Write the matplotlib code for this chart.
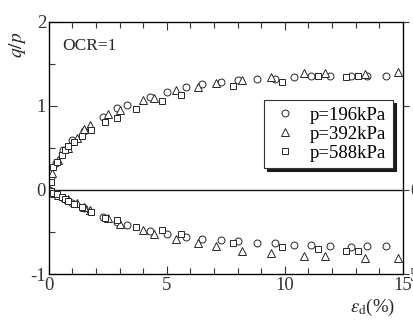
import numpy as np
import matplotlib.pyplot as plt
from matplotlib.ticker import MultipleLocator

plt.rcParams['font.family'] = ['Liberation Serif', 'DejaVu Serif']
plt.rcParams['mathtext.fontset'] = 'stix'
plt.rcParams['axes.unicode_minus'] = False

# p = 196 kPa (circles)
c_x = [0, 0.1, 0.3, 0.6, 1.0, 1.5, 2.3, 2.9, 3.3, 4.3, 5.0, 5.8, 6.5, 7.3, 8.0,
       8.8, 9.6, 10.4, 11.1, 11.9, 12.8, 13.5, 14.3]
c_up = [0, 0.15, 0.32, 0.48, 0.6, 0.7, 0.87, 0.98, 1.01, 1.11, 1.17, 1.22, 1.26,
        1.29, 1.31, 1.32, 1.32, 1.35, 1.36, 1.36, 1.36, 1.36, 1.36]
c_lo = [0, -0.02, -0.05, -0.1, -0.16, -0.22, -0.32, -0.38, -0.42, -0.49, -0.52,
        -0.56, -0.58, -0.6, -0.61, -0.63, -0.63, -0.65, -0.65, -0.67, -0.68, -0.67, -0.67]

# p = 392 kPa (triangles)
t_x = [0, 0.15, 0.4, 0.8, 1.2, 1.5, 1.74, 2.5, 3.0, 4.0, 4.45, 5.4, 6.3, 7.1,
       8.2, 9.4, 10.8, 11.7, 13.4, 14.8]
t_up = [0, 0.2, 0.36, 0.5, 0.62, 0.73, 0.77, 0.9, 0.95, 1.07, 1.1, 1.19, 1.22,
        1.27, 1.31, 1.35, 1.39, 1.39, 1.38, 1.40]
t_lo = [0, -0.03, -0.06, -0.11, -0.16, -0.2, -0.24, -0.33, -0.4, -0.48, -0.52,
        -0.58, -0.63, -0.67, -0.73, -0.75, -0.79, -0.79, -0.81, -0.81]

# p = 588 kPa (squares)
s_x = [0.08, 0.17, 0.34, 0.55, 0.68, 0.8, 1.06, 1.4, 1.78, 2.37, 2.9, 3.7, 4.8,
       5.6, 7.8, 9.9, 11.4, 12.6, 13.1]
s_up = [0.1, 0.27, 0.33, 0.42, 0.48, 0.52, 0.57, 0.64, 0.71, 0.81, 0.86, 0.96,
        1.06, 1.13, 1.24, 1.29, 1.36, 1.35, 1.36]
s_lo = [-0.01, -0.03, -0.05, -0.08, -0.11, -0.13, -0.17, -0.2, -0.26, -0.33,
        -0.36, -0.44, -0.48, -0.52, -0.63, -0.68, -0.7, -0.73, -0.73]

labels = ['p=196kPa', 'p=392kPa', 'p=588kPa']

fig = plt.figure(figsize=(4.14, 3.22), dpi=100)
ax = fig.add_axes([0.118, 0.149, 0.855, 0.783])

kw = dict(ls='none', mfc='white', mec='0.15', mew=0.7)
for x, up, lo, m, ms, lab in [(c_x, c_up, c_lo, 'o', 5, labels[0]),
                              (t_x, t_up, t_lo, '^', 5.5, labels[1]),
                              (s_x, s_up, s_lo, 's', 5, labels[2])]:
    ax.plot(x, up, marker=m, ms=ms, label=lab, **kw)
    ax.plot(x, lo, marker=m, ms=ms, **kw)

ax.axhline(0, color='0.1', lw=1.0, zorder=0)

ax.set_xlim(0, 15)
ax.set_ylim(-1, 2)
ax.xaxis.set_major_locator(MultipleLocator(5))
ax.xaxis.set_minor_locator(MultipleLocator(1))
ax.yaxis.set_major_locator(MultipleLocator(1))
ax.yaxis.set_minor_locator(MultipleLocator(0.5))
ax.tick_params(which='both', direction='in', top=True, labelsize=13.5,
               colors='0.2', pad=2)
ax.tick_params(which='major', length=6, width=0.8)
ax.tick_params(which='minor', length=4, width=0.8)
for sp in ax.spines.values():
    sp.set_color('0.35')
    sp.set_linewidth(1.0)

# cut-off edge of the neighbouring panel
ax2 = ax.twinx()
ax2.set_ylim(-1, 2)
ax2.set_yticks([-1, 0, 1, 2])
ax2.set_yticklabels(['5', '0', '', ''])
ax2.tick_params(direction='out', length=4, labelsize=13.5, colors='0.2', pad=1)

ax.text(0.037, 0.935, 'OCR=1', transform=ax.transAxes, fontsize=12.5,
        va='top', ha='left', color='0.15')

fig.text(0.043, 0.86, r'$q/p$', rotation=90, fontsize=14, ha='center',
         va='center', color='0.15')
fig.text(0.9, 0.045, r'$\varepsilon_{\rm d}$(%)', fontsize=13.5, ha='center',
         va='center', color='0.15')

leg = ax.legend(loc='upper right', bbox_to_anchor=(0.972, 0.69), borderaxespad=0,
                fontsize=13.5, frameon=True, fancybox=False, edgecolor='0.2',
                shadow={'color': '0.1', 'alpha': 1}, handletextpad=0.6,
                handlelength=1.5, labelspacing=0.1, borderpad=0.35)
leg.get_frame().set_linewidth(0.8)

fig.savefig('out.png', dpi=100)
